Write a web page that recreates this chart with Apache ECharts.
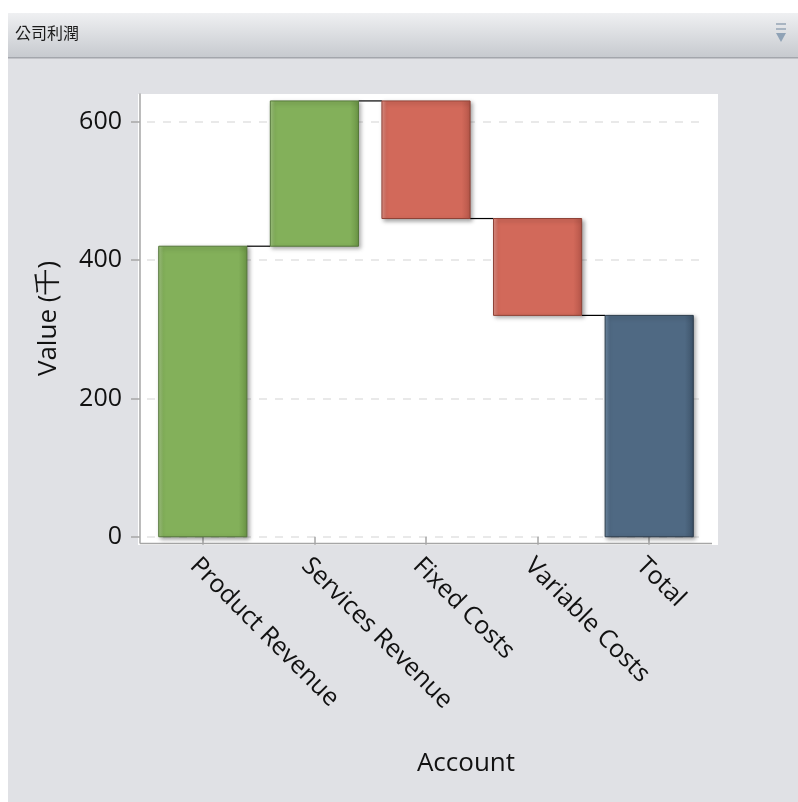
<!DOCTYPE html>
<html>
<head>
<meta charset="utf-8">
<script src="https://cdn.jsdelivr.net/npm/echarts@6/dist/echarts.min.js"></script>
<style>
  html, body { margin: 0; padding: 0; background: #fff; }
  #chart { width: 798px; height: 802px; }
</style>
</head>
<body>
<div id="chart"></div>
<script>
// waterfall data (thousands)
const categories = ['Product Revenue', 'Services Revenue', 'Fixed Costs', 'Variable Costs', 'Total']
const amounts = [420, 210, -170, -140, 320]
const kinds = ['up', 'up', 'down', 'down', 'total']
const yTicks = [0, 200, 400, 600]

const palette = {
  up:    {left: '#a3c883', main: '#83b05a', right: '#6a9445', border: '#55773a'},
  down:  {left: '#e3958a', main: '#d2695a', right: '#b55649', border: '#8e4236'},
  total: {left: '#7590aa', main: '#4f6983', right: '#3d5369', border: '#2b3b4b'}
}

// running level before / after each step
const starts = []
const ends = []
let level = 0
amounts.forEach((v, i) => {
  if (kinds[i] === 'total') {
    starts.push(0); ends.push(v); level = v
  } else {
    starts.push(level); level += v; ends.push(level)
  }
})

const barData = categories.map((c, i) => [i, starts[i], ends[i]])
const linkData = categories.slice(0, -1).map((c, i) => [i, ends[i]])

const BAR_RATIO = 0.79

function renderBar(params, api) {
  const i = api.value(0)
  const p0 = api.coord([i, api.value(1)])
  const p1 = api.coord([i, api.value(2)])
  const w = api.size([1, 0])[0] * BAR_RATIO
  const c = palette[kinds[i]]
  return {
    type: 'rect',
    shape: {x: p0[0] - w / 2, y: Math.min(p0[1], p1[1]), width: w, height: Math.abs(p1[1] - p0[1])},
    style: {
      fill: new echarts.graphic.LinearGradient(0, 0, 1, 0, [
        {offset: 0, color: c.left},
        {offset: 0.06, color: c.main},
        {offset: 0.9, color: c.main},
        {offset: 1, color: c.right}
      ]),
      stroke: c.border,
      lineWidth: 1,
      shadowBlur: 4,
      shadowColor: 'rgba(0,0,0,0.35)',
      shadowOffsetX: 2,
      shadowOffsetY: 2
    }
  }
}

function renderLink(params, api) {
  const i = api.value(0)
  const v = api.value(1)
  const w = api.size([1, 0])[0] * BAR_RATIO
  const a = api.coord([i, v])
  const b = api.coord([i + 1, v])
  return {
    type: 'line',
    shape: {x1: a[0] + w / 2, y1: a[1], x2: b[0] - w / 2, y2: b[1]},
    style: {stroke: '#000', lineWidth: 1.2}
  }
}

const chart = echarts.init(document.getElementById('chart'))

chart.setOption({
  animation: false,
  backgroundColor: '#fff',
  textStyle: {fontFamily: 'Open Sans'},
  graphic: [
    {type: 'rect', z: -20, shape: {x: 8, y: 13, width: 790, height: 789}, style: {fill: '#e0e1e5'}},
    {type: 'rect', z: -19, shape: {x: 8, y: 13, width: 790, height: 44},
      style: {fill: new echarts.graphic.LinearGradient(0, 0, 0, 1, [
        {offset: 0, color: '#eff0f2'}, {offset: 1, color: '#c7cacf'}])}},
    {type: 'rect', z: -18, shape: {x: 8, y: 57, width: 790, height: 1.5}, style: {fill: '#a3a6ac'}},
    {type: 'text', z: -17, left: 15, top: 25,
      style: {text: '公司利潤', font: '16px "Noto Sans CJK TC"', fill: '#1a1a1a'}},
    {type: 'rect', z: -17, shape: {x: 776, y: 23, width: 10, height: 2}, style: {fill: '#a9b5c2'}},
    {type: 'rect', z: -17, shape: {x: 776, y: 28, width: 10, height: 2}, style: {fill: '#a9b5c2'}},
    {type: 'polygon', z: -17, shape: {points: [[776, 33], [786, 33], [781, 42]]}, style: {fill: '#8fa2b6'}},
    // plot frame
    {type: 'rect', z: -10, shape: {x: 138, y: 94, width: 580, height: 451}, style: {fill: '#fff'}},
    {type: 'line', z: -5, shape: {x1: 140, y1: 543.5, x2: 712, y2: 543.5}, style: {stroke: '#a6a6a6', lineWidth: 1.5}}
  ],
  grid: {left: 147, right: 93, top: 94, bottom: 259, outerBoundsMode: 'none', containLabel: false},
  xAxis: {
    type: 'category',
    data: categories,
    axisLine: {show: false},
    axisTick: {show: true, alignWithLabel: true, length: 8, lineStyle: {color: '#a6a6a6', width: 1.5}},
    axisLabel: {rotate: -45, margin: 10, verticalAlign: 'top', fontSize: 25, color: '#111', fontFamily: 'Open Sans'},
    name: 'Account',
    nameLocation: 'middle',
    nameGap: 208,
    nameTextStyle: {fontSize: 26, color: '#111', fontFamily: 'Open Sans', padding: [0, 0, 0, 80]}
  },
  yAxis: {
    type: 'value',
    min: -9,
    max: 640,
    offset: 7,
    axisLine: {show: true, lineStyle: {color: '#a6a6a6', width: 1.5}},
    axisTick: {show: true, length: 9, customValues: yTicks, lineStyle: {color: '#a6a6a6', width: 1.5}},
    axisLabel: {customValues: yTicks, margin: 18, fontSize: 25, color: '#111', fontFamily: 'Open Sans'},
    splitLine: {show: true, lineStyle: {color: '#e2e2e2', type: [8, 8], width: 1.5}},
    name: 'Value (千)',
    nameLocation: 'middle',
    nameGap: 78,
    nameTextStyle: {fontSize: 26, color: '#111', fontFamily: 'Open Sans'}
  },
  series: [
    {type: 'custom', renderItem: renderBar, data: barData, encode: {x: 0, y: [1, 2]}, z: 3},
    {type: 'custom', renderItem: renderLink, data: linkData, encode: {x: 0, y: 1}, z: 2}
  ]
})
</script>
</body>
</html>
